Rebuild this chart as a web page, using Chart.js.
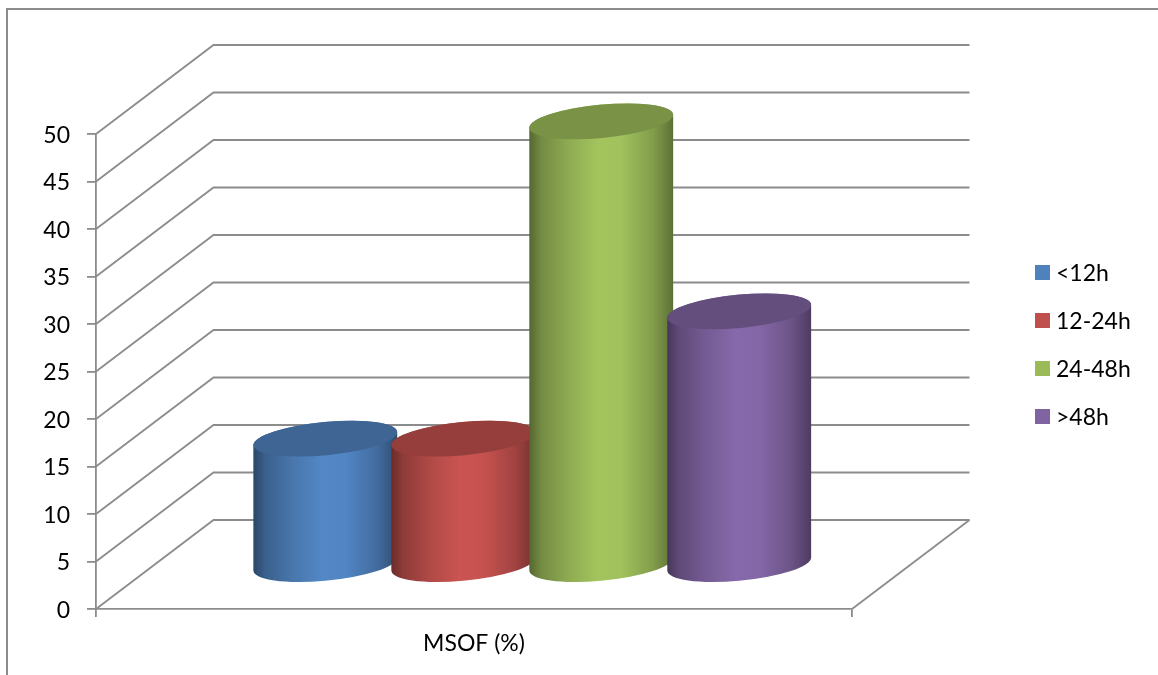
<!DOCTYPE html>
<html>
<head>
<meta charset="utf-8">
<title>MSOF (%)</title>
<style>html,body{margin:0;padding:0;background:#fff}canvas{display:block}</style>
<script src="https://cdn.jsdelivr.net/npm/chart.js@4"></script>
</head>
<body>
<canvas id="c" width="1158" height="675"></canvas>
<script>
const categories = ['MSOF (%)'];
const seriesNames = ['<12h', '12-24h', '24-48h', '>48h'];
const seriesValues = [[13.3], [13.3], [46.7], [26.7]];
const seriesColors = ['#4F81BD', '#C0504D', '#9BBB59', '#8064A2'];

const LINE = '#8c8c8c';
const LINE_WIDTH = 1.8;
const FONT = 'Lato, Carlito, sans-serif';
const DEPTH_X = 117.5, DEPTH_Y = 89;
const TILT = -5.45 * Math.PI / 180;

function shade(hex, k) {
  const n = parseInt(hex.slice(1), 16);
  const c = [(n >> 16) & 255, (n >> 8) & 255, n & 255].map(v => Math.min(255, Math.round(v * k)));
  return `rgb(${c[0]},${c[1]},${c[2]})`;
}

function paintCylinder(ctx, el, color) {
  const cx = el.x + DEPTH_X / 2 - 0.5;
  const top = el.y - DEPTH_Y / 2 + 0.5;
  const bottom = el.base - DEPTH_Y / 2 + 0.5;
  const a = el.width * 0.502, b = a * 0.231;
  const t0 = Math.atan2(-b * Math.sin(TILT), a * Math.cos(TILT));
  const hw = a * Math.cos(t0) * Math.cos(TILT) - b * Math.sin(t0) * Math.sin(TILT);

  const g = ctx.createLinearGradient(cx - hw, 0, cx + hw, 0);
  [[0, 0.55], [0.08, 0.74], [0.28, 0.92], [0.48, 1.05], [0.64, 1.03], [0.86, 0.84], [1, 0.6]]
    .forEach(([p, k]) => g.addColorStop(p, shade(color, k)));

  ctx.beginPath();
  ctx.ellipse(cx, bottom, a, b, TILT, Math.PI + t0, t0, true);
  ctx.ellipse(cx, top, a, b, TILT, t0, Math.PI + t0, true);
  ctx.closePath();
  ctx.fillStyle = g;
  ctx.fill();

  ctx.beginPath();
  ctx.ellipse(cx, top, a, b, TILT, 0, Math.PI * 2);
  ctx.fillStyle = shade(color, 0.78);
  ctx.fill();
}

const scene3d = {
  id: 'scene3d',
  beforeDraw(chart) {
    const { ctx } = chart;
    ctx.save();
    ctx.strokeStyle = LINE;
    ctx.lineWidth = 2;
    ctx.beginPath();
    ctx.moveTo(7, 675);
    ctx.lineTo(7, 9);
    ctx.lineTo(1158, 9);
    ctx.stroke();
    ctx.restore();
  },
  beforeDatasetsDraw(chart) {
    const { ctx, chartArea: area, scales: { y } } = chart;
    ctx.save();
    ctx.strokeStyle = LINE;
    ctx.lineWidth = LINE_WIDTH;
    y.ticks.forEach(t => {
      const py = y.getPixelForValue(t.value);
      ctx.beginPath();
      ctx.moveTo(area.left, py);
      ctx.lineTo(area.left + DEPTH_X, py - DEPTH_Y);
      ctx.lineTo(area.right + DEPTH_X, py - DEPTH_Y);
      ctx.stroke();
    });
    const floor = y.getPixelForValue(0);
    ctx.beginPath();
    ctx.moveTo(area.right + DEPTH_X, floor - DEPTH_Y);
    ctx.lineTo(area.right, floor);
    ctx.stroke();
    ctx.restore();
  },
  beforeDatasetDraw() {
    return false;
  },
  afterDatasetsDraw(chart) {
    const { ctx } = chart;
    ctx.save();
    seriesNames.forEach((_, i) => {
      chart.getDatasetMeta(i).data.forEach(el => paintCylinder(ctx, el, seriesColors[i]));
    });
    ctx.restore();
  },
  afterDraw(chart) {
    const { ctx } = chart;
    ctx.save();
    ctx.font = `23px ${FONT}`;
    ctx.textBaseline = 'middle';
    ctx.textAlign = 'left';
    seriesNames.forEach((name, i) => {
      const cy = 272.5 + i * 48;
      ctx.fillStyle = seriesColors[i];
      ctx.fillRect(1035, cy - 7.5, 15, 15);
      ctx.fillStyle = '#000';
      ctx.fillText(name, 1056, cy + 1);
    });
    ctx.restore();
  }
};

new Chart(document.getElementById('c'), {
  type: 'bar',
  data: {
    labels: categories,
    datasets: seriesNames.map((name, i) => ({
      label: name,
      data: seriesValues[i],
      backgroundColor: seriesColors[i],
      categoryPercentage: 0.73,
      barPercentage: 1.043
    }))
  },
  options: {
    responsive: false,
    animation: false,
    layout: { padding: { left: 36, top: 134, right: 306, bottom: 18 } },
    plugins: { legend: { display: false }, tooltip: { enabled: false } },
    scales: {
      x: {
        afterFit(s) { s.height = 48; },
        border: { color: LINE, width: LINE_WIDTH },
        grid: { color: LINE, lineWidth: LINE_WIDTH, drawOnChartArea: false, tickLength: 8 },
        ticks: { color: '#000', font: { family: FONT, size: 23 }, padding: 13, maxRotation: 0 }
      },
      y: {
        min: 0,
        max: 50,
        afterFit(s) { s.width = 60; },
        border: { color: LINE, width: LINE_WIDTH },
        grid: { color: LINE, lineWidth: LINE_WIDTH, drawOnChartArea: false, tickLength: 9 },
        ticks: { stepSize: 5, color: '#000', font: { family: FONT, size: 23 }, padding: 17, labelOffset: 1.5 }
      }
    }
  },
  plugins: [scene3d]
});
</script>
</body>
</html>
